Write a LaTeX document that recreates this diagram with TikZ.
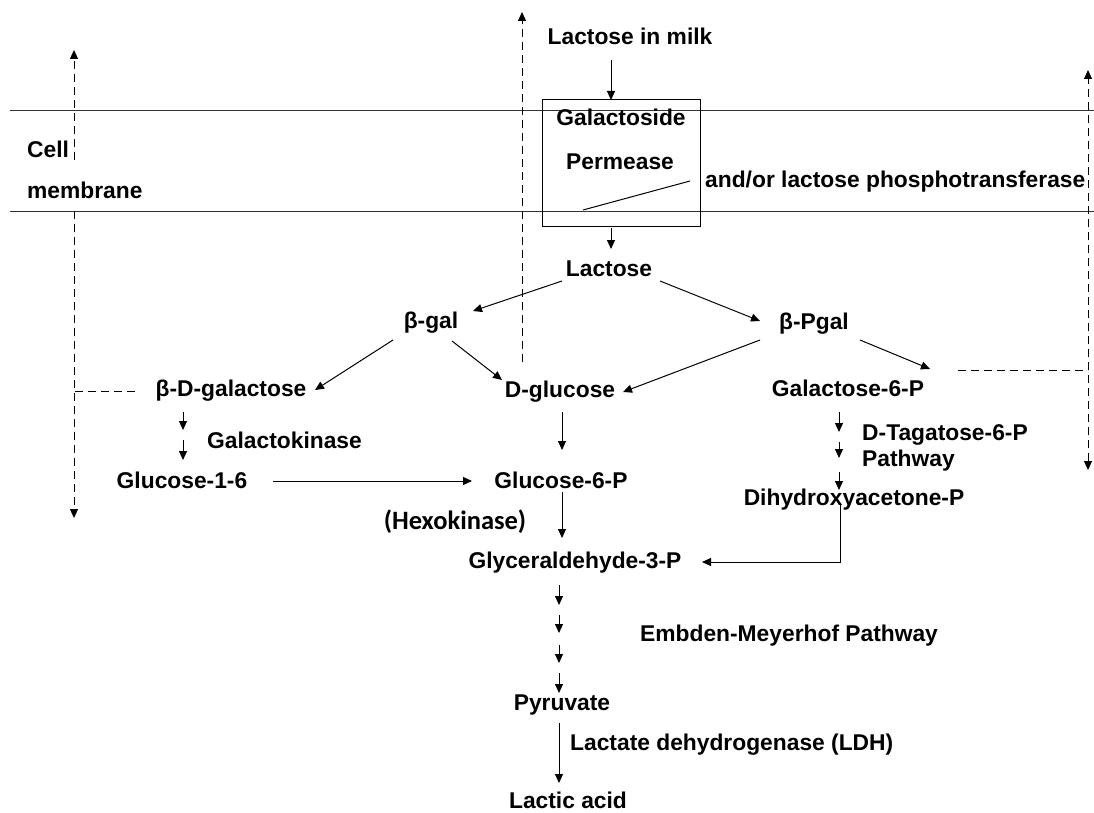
\documentclass[tikz,border=0pt]{standalone}
\usepackage{fontspec}
\setmainfont{Liberation Sans}
\newfontfamily\hexofont{Carlito}
\usetikzlibrary{arrows.meta}
\begin{document}
\begin{tikzpicture}[x=1pt,y=-1pt,
  every node/.style={inner sep=0pt,font=\fontsize{22.8}{26}\selectfont\bfseries},
  lbl/.style={text height=16pt,text depth=0pt},
  arr/.style={line width=1pt,-{Triangle[length=9pt,width=8pt]}},
  dsh/.style={line width=1pt,dash pattern=on 8pt off 5pt},
  plain/.style={line width=1pt}]
\useasboundingbox (0,0) rectangle (1094,813);
% membrane lines
\coordinate (mA) at (10,111); \coordinate (mB) at (1094,111);
\coordinate (mC) at (10,211); \coordinate (mD) at (1094,211);
\draw[plain,black!80] (mA) -- (mB);
\draw[plain,black!80] (mC) -- (mD);
% box
\node[draw,line width=1pt,minimum width=158pt,minimum height=126pt] (box) at (621,163) {};
% text nodes
\node[lbl] (milk) at (630,37) {Lactose in milk};
\node[lbl] (gal) at (621,118) {Galactoside};
\node[lbl] (perm) at (620,162) {Permease};
\node[lbl,anchor=west] (andor) at (705,180) {and/or lactose phosphotransferase};
\node[lbl,anchor=west] (cell) at (27,150) {Cell};
\node[lbl,anchor=west] (memb) at (27,191) {membrane};
\node[lbl] (lac) at (609,268) {Lactose};
\node[lbl] (bgal) at (431,320) {β-gal};
\node[lbl] (bpgal) at (814,321) {β-Pgal};
\node[lbl] (bdgal) at (231,388) {β-D-galactose};
\node[lbl] (dglc) at (560,389) {D-glucose};
\node[lbl] (gal6p) at (848,388) {Galactose-6-P};
\node[lbl,anchor=west] (galk) at (207,440) {Galactokinase};
\node[lbl] (glc16) at (182,480) {Glucose-1-6};
\node[lbl] (glc6p) at (561,480) {Glucose-6-P};
\node[lbl,anchor=west] (tag) at (862,432) {D-Tagatose-6-P};
\node[lbl,anchor=west] (path) at (862,458) {Pathway};
\node[font=\hexofont\fontsize{26.5}{30}\selectfont\bfseries,text height=18pt,text depth=0pt] (hexo) at (455,520) {(Hexokinase)};
\node[lbl] (dhap) at (854,497) {Dihydroxyacetone-P};
\node[lbl] (ga3p) at (575,560) {Glyceraldehyde-3-P};
\node[lbl,anchor=west] (emb) at (640,633) {Embden-Meyerhof Pathway};
\node[lbl] (pyr) at (562,702) {Pyruvate};
\node[lbl,anchor=west] (ldh) at (570,742) {Lactate dehydrogenase (LDH)};
\node[lbl] (lact) at (568,800) {Lactic acid};
% slanted pointer line
\draw[plain] ([shift={(-38,47)}]box.center) -- ([shift={(-15,1)}]andor.west);
% solid arrows
\draw[arr] ([shift={(-19,23)}]milk.center) -- ([shift={(-10,-63)}]box.center);
\draw[arr] ([shift={(-10,65)}]box.center) -- ([shift={(2,-19)}]lac.center);
\draw[arr] ([shift={(-47,13)}]lac.center) -- ([shift={(42,-9)}]bgal.center);
\draw[arr] ([shift={(51,13)}]lac.center) -- ([shift={(-54,0)}]bpgal.center);
\draw[arr] ([shift={(-38,20)}]bgal.center) -- ([shift={(84,2)}]bdgal.center);
\draw[arr] ([shift={(21,21)}]bgal.center) -- ([shift={(-58,-9)}]dglc.center);
\draw[arr] ([shift={(-54,19)}]bpgal.center) -- ([shift={(63,3)}]dglc.center);
\draw[arr] ([shift={(46,19)}]bpgal.center) -- ([shift={(82,-19)}]gal6p.center);
\draw[arr] ([shift={(2,23)}]dglc.center) -- ([shift={(1,-30)}]glc6p.center);
\draw[arr] ([shift={(-48,24)}]bdgal.center) -- ([shift={(-48,42)}]bdgal.center);
\draw[arr] ([shift={(-48,52)}]bdgal.center) -- ([shift={(1,-20)}]glc16.center);
\draw[arr] ([shift={(91,1)}]glc16.center) -- ([shift={(-89,1)}]glc6p.center);
\draw[arr] ([shift={(-9,24)}]gal6p.center) -- ([shift={(-9,44)}]gal6p.center);
\draw[arr] ([shift={(-9,54)}]gal6p.center) -- ([shift={(-9,70)}]gal6p.center);
\draw[arr] ([shift={(-9,84)}]gal6p.center) -- ([shift={(-15,-7)}]dhap.center);
\draw[arr] ([shift={(1,12)}]glc6p.center) -- ([shift={(-13,-22)}]ga3p.center);
\draw[arr] ([shift={(-14,8)}]dhap.center) |- ([shift={(127,2)}]ga3p.center);
\draw[arr] ([shift={(-16,25)}]ga3p.center) -- ([shift={(-16,45)}]ga3p.center);
\draw[arr] ([shift={(-16,55)}]ga3p.center) -- ([shift={(-16,73)}]ga3p.center);
\draw[arr] ([shift={(-16,85)}]ga3p.center) -- ([shift={(-16,103)}]ga3p.center);
\draw[arr] ([shift={(-16,113)}]ga3p.center) -- ([shift={(-3,-9)}]pyr.center);
\draw[arr] ([shift={(-3,21)}]pyr.center) -- ([shift={(-9,-17)}]lact.center);
% dashed lines
\coordinate (L1) at (74,50); \coordinate (L2) at (74,160);
\coordinate (L3) at (74,211); \coordinate (L4) at (74,518);
\coordinate (Lm) at (74,391);
\draw[dsh,arr] (L2) -- (L1);
\draw[dsh,arr] (L3) -- (L4);
\draw[dsh] ([shift={(-96,3)}]bdgal.center) -- (Lm);
\coordinate (M1) at (522,362); \coordinate (M2) at (522,12);
\draw[dsh,arr] (M1) -- (M2);
\coordinate (R1) at (1088,70); \coordinate (R2) at (1088,470);
\coordinate (Rm) at (1088,370);
\draw[dsh,{Triangle[length=9pt,width=8pt]}-{Triangle[length=9pt,width=8pt]}] (R2) -- (R1);
\draw[dsh] ([shift={(110,-18)}]gal6p.center) -- (Rm);
\end{tikzpicture}
\end{document}
